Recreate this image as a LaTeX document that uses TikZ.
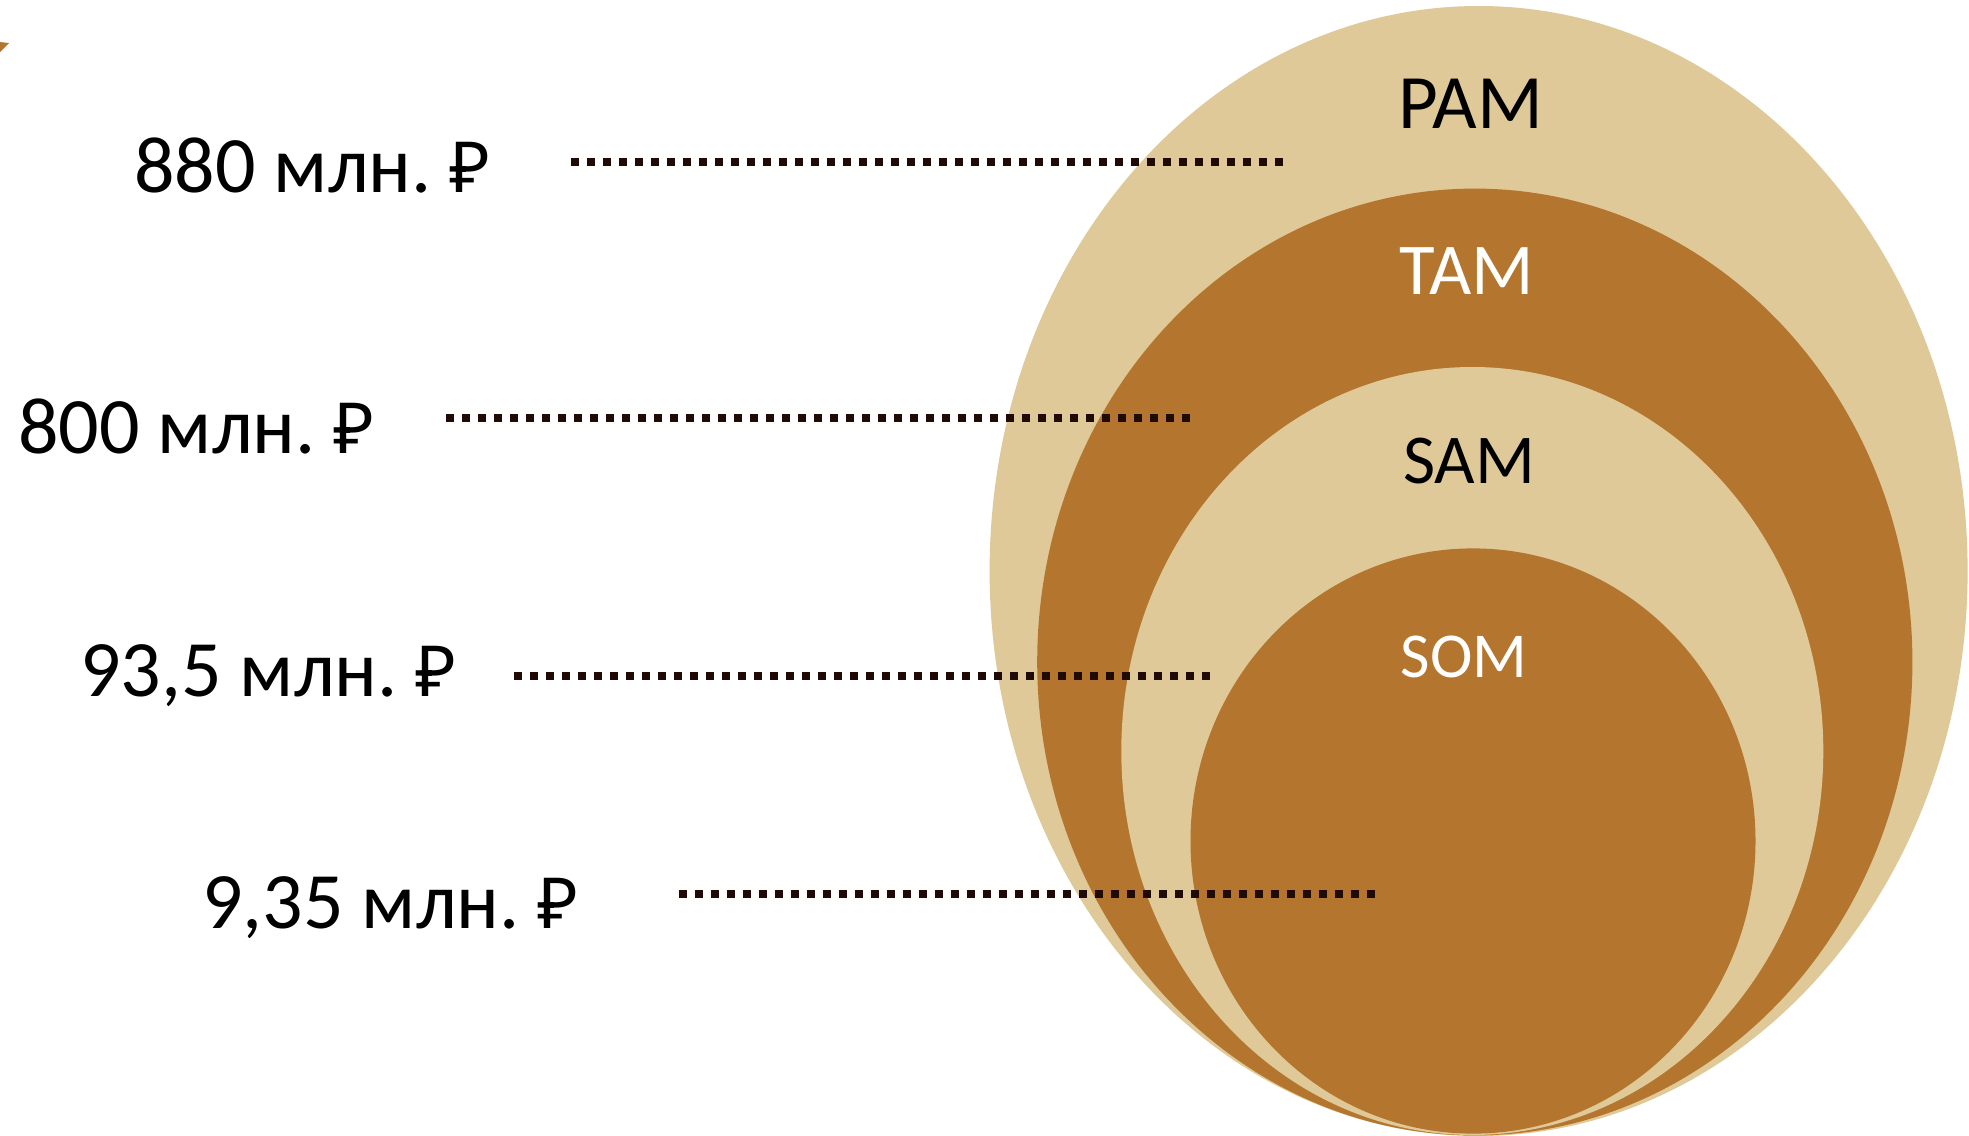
\documentclass[tikz,border=0pt]{standalone}
\usepackage{fontspec}
\setmainfont{Carlito}
\newfontfamily\rubfont[Scale=0.88]{Noto Sans}
\definecolor{tan}{HTML}{DFC998}
\definecolor{brn}{HTML}{B4762E}
\definecolor{dotc}{HTML}{1F0A05}
\tikzset{
  lbl/.style={anchor=base west, inner sep=0pt, font=\fontsize{80}{86}\selectfont},
  mkt/.style={anchor=base, inner sep=0pt},
  dotline/.style={line width=8pt, dash pattern=on 8pt off 8pt, draw=dotc},
}
\newcommand{\rub}{{\rubfont ₽}}
\begin{document}
\begin{tikzpicture}[x=1pt,y=-1pt]
\useasboundingbox (0,0) rectangle (1969,1135);
\fill[white] (0,0) rectangle (1969,1135);
\begin{scope}
\clip (0,0) rectangle (1969,1135);
\fill[tan] (1478.6,571) ellipse [x radius=489, y radius=565];
\fill[brn] (1474.8,662) ellipse [x radius=437.6, y radius=473.4];
\fill[tan] (1472.3,751) ellipse [x radius=351, y radius=384];
\fill[brn] (1473,841) ellipse [x radius=282.5, y radius=292.6];
\end{scope}
\fill[brn] (0,42) -- (9,43) -- (0,52) -- cycle;
\node[mkt, font=\fontsize{77}{84}\selectfont] (pam) at (1471,128) {PAM};
\node[mkt, font=\fontsize{73}{80}\selectfont, text=white] (tam) at (1467,294) {TAM};
\node[mkt, font=\fontsize{70}{76}\selectfont] (sam) at (1469,483) {SAM};
\node[mkt, font=\fontsize{64}{70}\selectfont, text=white] (som) at (1464,677) {SOM};
\node[lbl] (l1) at (134,192) {880 млн.\hspace{0.22em}\rub};
\node[lbl] (l2) at (18,453) {800 млн.\hspace{0.22em}\rub};
\node[lbl] (l3) at (80,696) {93,5 млн.\hspace{0.22em}\rub};
\node[lbl] (l4) at (202,928) {9,35 млн.\hspace{0.22em}\rub};
\coordinate (a1) at (571,162); \coordinate (b1) at (1283,162);
\coordinate (a2) at (446,418); \coordinate (b2) at (1190,418);
\coordinate (a3) at (514,676); \coordinate (b3) at (1210,676);
\coordinate (a4) at (679,894); \coordinate (b4) at (1377,894);
\draw[dotline] (a1) -- (b1);
\draw[dotline] (a2) -- (b2);
\draw[dotline] (a3) -- (b3);
\draw[dotline] (a4) -- (b4);
\end{tikzpicture}
\end{document}
